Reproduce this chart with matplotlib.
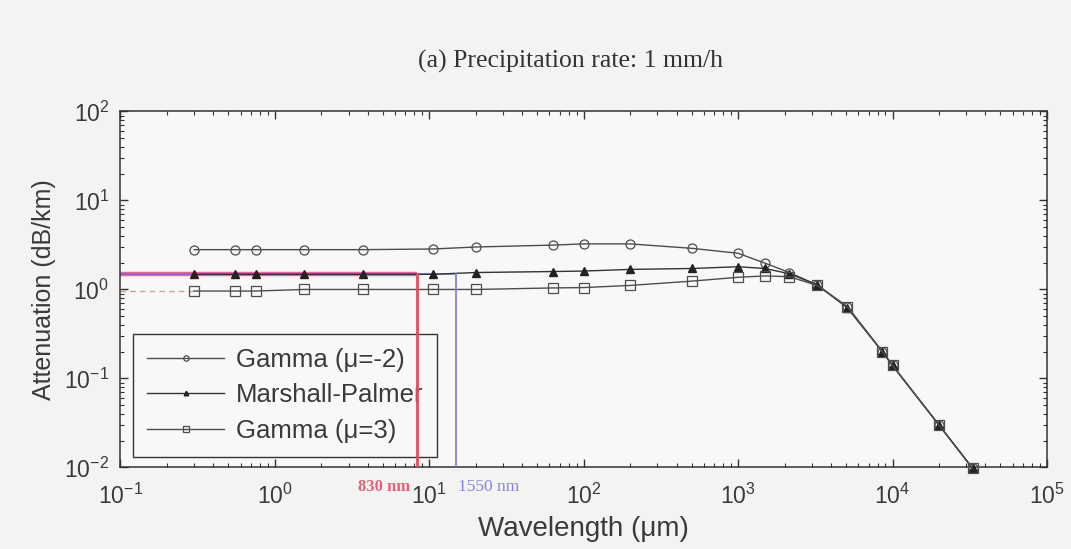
import matplotlib
matplotlib.use("Agg")
import matplotlib.pyplot as plt
from matplotlib.ticker import LogLocator, NullFormatter, FixedLocator, LogFormatterSciNotation

# ---- data ----
wavelength_um = [0.3, 0.55, 0.75, 1.55, 3.7, 10.6, 20, 63, 100, 200, 500,
                 1000, 1500, 2150, 3250, 5100, 8600, 10000, 20000, 33000]
gamma_m2 = [2.8, 2.8, 2.8, 2.8, 2.8, 2.85, 3.0, 3.15, 3.25, 3.25, 2.9,
            2.55, 1.97, 1.55, 1.12, 0.64, 0.20, 0.14, 0.030, 0.0098]
marshall_palmer = [1.48, 1.48, 1.48, 1.48, 1.48, 1.48, 1.55, 1.59, 1.61, 1.68, 1.72,
                   1.80, 1.72, 1.50, 1.13, 0.62, 0.20, 0.14, 0.030, 0.0098]
gamma_p3 = [0.96, 0.96, 0.96, 1.0, 1.0, 1.0, 1.0, 1.04, 1.05, 1.11, 1.24,
            1.37, 1.42, 1.39, 1.11, 0.64, 0.20, 0.14, 0.030, 0.0098]
series_labels = ["Gamma (\u03bc=-2)", "Marshall-Palmer", "Gamma (\u03bc=3)"]

x_major_ticks = [1e-1, 1e0, 1e1, 1e2, 1e3, 1e4, 1e5]
y_major_ticks = [1e-2, 1e-1, 1e0, 1e1, 1e2]

marker_830_x = 8.3     # where the red marker line is drawn
marker_1550_x = 15.0   # where the blue marker line is drawn
marker_level = 1.48
dashed_level = 0.95
dashed_end_x = 0.3

title = "(a) Precipitation rate: 1 mm/h"
xlabel = "Wavelength (\u03bcm)"
ylabel = "Attenuation (dB/km)"

plt.rcParams["font.family"] = ["Liberation Sans", "DejaVu Sans"]
plt.rcParams["mathtext.fontset"] = "custom"
plt.rcParams["mathtext.rm"] = "Liberation Sans"
plt.rcParams["mathtext.it"] = "Liberation Sans"
plt.rcParams["mathtext.default"] = "regular"
plt.rcParams["axes.unicode_minus"] = False

txt = "#3a3a3a"
line_c = "#4d4d4d"

fig = plt.figure(figsize=(10.71, 5.49), dpi=100, facecolor="#f3f3f1")
ax = fig.add_axes([0.1125, 0.1485, 0.865, 0.6485], facecolor="#f8f8f7")

ax.plot(wavelength_um, gamma_m2, color=line_c, lw=1.0, marker="o", ms=6.5,
        mfc="none", mec=line_c, mew=0.9, label=series_labels[0], clip_on=False, zorder=3)
ax.plot(wavelength_um, marshall_palmer, color="#333333", lw=1.0, marker="^", ms=5.5,
        mfc="#222222", mec="#222222", label=series_labels[1], clip_on=False, zorder=3)
ax.plot(wavelength_um, gamma_p3, color=line_c, lw=1.0, marker="s", ms=6.5,
        mfc="none", mec=line_c, mew=0.9, label=series_labels[2], clip_on=False, zorder=3)

# marker lines for 830 nm / 1550 nm
ax.plot([0.1, marker_830_x], [marker_level, marker_level], color="#e0508a", lw=3.2,
        alpha=0.85, zorder=2, solid_capstyle="butt")
ax.plot([0.1, marker_1550_x], [marker_level, marker_level], color="#6a6ae8", lw=1.2,
        alpha=0.8, zorder=2)
ax.plot([marker_830_x, marker_830_x], [0.01, marker_level], color="#e84860", lw=2.0,
        zorder=6)
ax.plot([marker_1550_x, marker_1550_x], [0.01, marker_level], color="#8080e0", lw=1.3,
        zorder=6)
ax.plot([0.1, dashed_end_x], [dashed_level, dashed_level], color="#d0a0a0", lw=1.0,
        ls=(0, (4, 3)), zorder=2)

ax.set_xscale("log")
ax.set_yscale("log")
ax.set_xlim(0.1, 1e5)
ax.set_ylim(1e-2, 1e2)

ax.xaxis.set_major_locator(FixedLocator(x_major_ticks))
ax.yaxis.set_major_locator(FixedLocator(y_major_ticks))
ax.xaxis.set_major_formatter(LogFormatterSciNotation())
ax.yaxis.set_major_formatter(LogFormatterSciNotation())
ax.xaxis.set_minor_locator(LogLocator(base=10, subs=range(2, 10), numticks=100))
ax.yaxis.set_minor_locator(LogLocator(base=10, subs=range(2, 10), numticks=100))
ax.xaxis.set_minor_formatter(NullFormatter())
ax.yaxis.set_minor_formatter(NullFormatter())

ax.tick_params(which="both", direction="in", top=True, right=True, colors="#333333")
ax.tick_params(which="major", length=6, width=1.0, labelsize=16.5, labelcolor=txt)
ax.tick_params(which="minor", length=3, width=0.8)
ax.tick_params(axis="x", which="major", pad=12)
ax.tick_params(axis="y", which="major", pad=8)
for s in ax.spines.values():
    s.set_color("#333333")
    s.set_linewidth(1.1)

ax.set_xlabel(xlabel, fontsize=20, color=txt, labelpad=5)
ax.set_ylabel(ylabel, fontsize=18, color=txt, labelpad=6)
fig.text(570 / 1071, 1 - 61 / 549, title, ha="center", va="center", fontsize=18.5,
         family="Liberation Serif", color="#333333")

leg = ax.legend(loc="lower left", bbox_to_anchor=(0.0135, 0.0295), borderaxespad=0,
                fontsize=18.5, frameon=True, fancybox=False, edgecolor="#333333",
                facecolor="#f8f8f7", framealpha=1, handlelength=3.0, handletextpad=0.45,
                labelspacing=0.45, borderpad=0.55, markerscale=0.6)
leg.get_frame().set_linewidth(1.0)
for t in leg.get_texts():
    t.set_color(txt)

ax.text(384 / 1071, 1 - 487 / 549, "830 nm", transform=fig.transFigure, ha="center",
        va="center", fontsize=12, family="Liberation Serif", weight="bold", color="#e86078")
ax.text(489 / 1071, 1 - 487 / 549, "1550 nm", transform=fig.transFigure, ha="center",
        va="center", fontsize=12.5, family="Liberation Serif", color="#8585e0")

fig.savefig("out.png", dpi=100, facecolor=fig.get_facecolor())
